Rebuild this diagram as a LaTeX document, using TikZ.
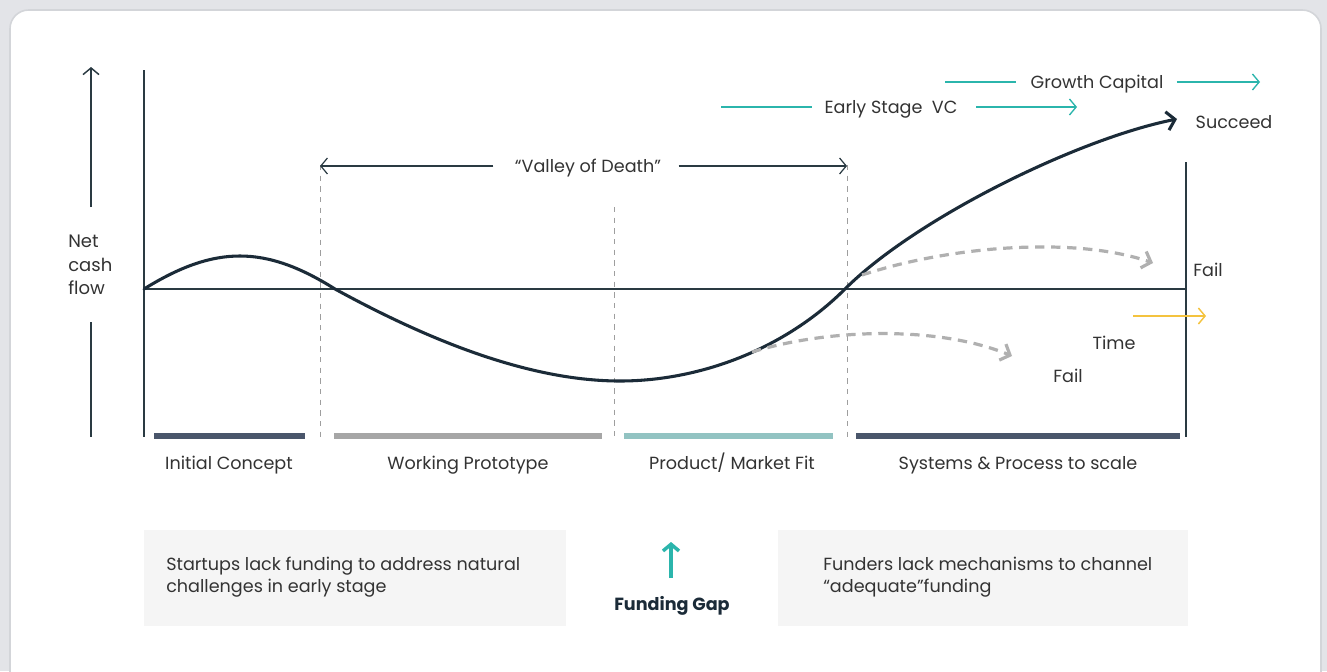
\documentclass[tikz,border=0pt]{standalone}
\usepackage{fontspec}
\setmainfont{Poppins}
\usetikzlibrary{arrows.meta}
\definecolor{pagegrey}{HTML}{E3E4E8}
\definecolor{cardedge}{HTML}{D3D5D9}
\definecolor{ink}{HTML}{1B2B38}
\definecolor{axisc}{HTML}{2A3A42}
\definecolor{txt}{HTML}{333333}
\definecolor{teal}{HTML}{2BB5AC}
\definecolor{gold}{HTML}{F4C33F}
\definecolor{dashgrey}{HTML}{B0B0B0}
\definecolor{slate}{HTML}{4A566B}
\definecolor{midgrey}{HTML}{A6A6A6}
\definecolor{paleteal}{HTML}{92C3C2}
\definecolor{boxfill}{HTML}{F5F5F5}
\begin{document}
\begin{tikzpicture}[x=0.75pt,y=-0.75pt,
  lbl/.style={font=\fontsize{13.2}{15}\selectfont, text=txt, inner sep=0pt,
     text height=9.4pt, text depth=2.6pt, yshift=-1.5pt},
  axisline/.style={draw=axisc, line width=1.1pt},
  tealarrow/.style={draw=teal, line width=1pt, -{Straight Barb[length=5pt,width=12pt]}},
  tealline/.style={draw=teal, line width=1pt},
  guide/.style={draw=dashgrey!90!black, line width=0.7pt, dash pattern=on 4pt off 4pt},
  failpath/.style={draw=dashgrey, line width=2.4pt, dash pattern=on 7pt off 5pt,
     -{Straight Barb[length=6pt,width=13pt,line width=2.4pt]}},
  stagebar/.style={line width=4.5pt},
  infobox/.style={fill=boxfill, minimum height=72pt, inner sep=0pt},
  boxtext/.style={font=\fontsize{13.2}{16.5}\selectfont, text=txt, align=left, inner sep=0pt}]
\useasboundingbox (0,0) rectangle (1327,671);
\clip (0,0) rectangle (1327,671);
% page and card
\fill[pagegrey] (0,0) rectangle (1327,671);
\draw[cardedge, fill=white, line width=1.2pt, rounded corners=14pt] (10,10) rectangle (1321,720);

% key points
\coordinate (o) at (144,289);
\coordinate (ytop) at (144,70);
\coordinate (ybot) at (144,437);
\coordinate (xend) at (1186,289);
\coordinate (rtop) at (1186,162);
\coordinate (rbot) at (1186,437);

% axes
\draw[axisline] (ytop) -- (ybot);
\draw[axisline] (o) -- (xend);
\draw[axisline] (rtop) -- (rbot);

% y-axis label with arrow
\coordinate (yarrowlo) at (91,207);
\coordinate (yarrowhi) at (91,67);
\coordinate (ylinehi) at (91,322);
\coordinate (ylinelo) at (91,437);
\draw[axisline, -{Straight Barb[length=5pt,width=12pt]}] (yarrowlo) -- (yarrowhi);
\draw[axisline] (ylinehi) -- (ylinelo);
\node[inner sep=0pt, text=txt, anchor=west, align=left, font=\fontsize{13.5}{17.8}\selectfont] (ylabel) at (68,265) {Net\\cash\\flow};

% stage separators
\coordinate (s1top) at (320,165);  \coordinate (s1bot) at (320,437);
\coordinate (s2top) at (614,207);  \coordinate (s2bot) at (614,437);
\coordinate (s3top) at (847,165);  \coordinate (s3bot) at (847,437);
\draw[guide] (s1top) -- (s1bot);
\draw[guide] (s2top) -- (s2bot);
\draw[guide] (s3top) -- (s3bot);

% valley of death span
\node[lbl] (valley) at (588,166) {“Valley of Death”};
\coordinate (vl) at (320,166);
\coordinate (vr) at (847,166);
\draw[axisline, line width=0.9pt, -{Straight Barb[length=5pt,width=12pt]}] ([xshift=-16pt,yshift=1.5pt]valley.west) -- (vl);
\draw[axisline, line width=0.9pt, -{Straight Barb[length=5pt,width=12pt]}] ([xshift=13pt,yshift=1.5pt]valley.east) -- (vr);

% funding rounds
\node[lbl] (esvc) at (891,107) {Early Stage\ \ VC};
\coordinate (esl) at (721,107);
\coordinate (esr) at (1077,107);
\draw[tealline] (esl) -- ([xshift=-9pt,yshift=1.5pt]esvc.west);
\draw[tealarrow] ([xshift=14pt,yshift=1.5pt]esvc.east) -- (esr);

\node[lbl] (growth) at (1097,82) {Growth Capital};
\coordinate (gl) at (945,82);
\coordinate (gr) at (1260,82);
\draw[tealline] (gl) -- ([xshift=-11pt,yshift=1.5pt]growth.west);
\draw[tealarrow] ([xshift=10pt,yshift=1.5pt]growth.east) -- (gr);

% cash flow curve
\coordinate (c1) at (335,289);
\coordinate (c2) at (620,381);
\coordinate (c3) at (845,289);
\coordinate (succ) at (1177,119);
\draw[ink, line width=2.3pt, line cap=round, -{Straight Barb[length=6pt,width=14pt,line width=2.3pt]}]
  (o) .. controls (215,245) and (265,245) .. (c1)
      .. controls (430,341) and (530,381) .. (c2)
      .. controls (700,381) and (785,349) .. (c3)
      .. controls (915,219) and (1077,139) .. (succ);

% failure branches
\coordinate (f1s) at (862,275);
\coordinate (f1e) at (1153,263);
\coordinate (f2s) at (752,352);
\coordinate (f2e) at (1012,356);
\draw[failpath] (f1s) .. controls (950,246) and (1075,236) .. (f1e);
\draw[failpath] (f2s) .. controls (830,328) and (940,326) .. (f2e);

% time marker
\coordinate (tl) at (1133,316);
\coordinate (tr) at (1206,316);
\draw[draw=gold, line width=1.1pt, -{Straight Barb[length=5pt,width=12pt]}] (tl) -- (tr);

% outcome labels
\node[lbl] (succeed) at (1234,122) {Succeed};
\node[lbl] (fail1) at (1208,270) {Fail};
\node[lbl] (time) at (1114,343) {Time};
\node[lbl] (fail2) at (1068,376) {Fail};

% stage bars
\coordinate (b1a) at (154,436); \coordinate (b1b) at (305,436);
\coordinate (b2a) at (334,436); \coordinate (b2b) at (602,436);
\coordinate (b3a) at (624,436); \coordinate (b3b) at (833,436);
\coordinate (b4a) at (856,436); \coordinate (b4b) at (1180,436);
\draw[stagebar, slate] (b1a) -- (b1b);
\draw[stagebar, midgrey] (b2a) -- (b2b);
\draw[stagebar, paleteal] (b3a) -- (b3b);
\draw[stagebar, slate] (b4a) -- (b4b);

% stage names
\node[lbl] (st1) at (229,463) {Initial Concept};
\node[lbl] (st2) at (468,463) {Working Prototype};
\node[lbl] (st3) at (732,463) {Product/ Market Fit};
\node[lbl] (st4) at (1018,463) {Systems \& Process to scale};

% bottom info boxes
\node[infobox, anchor=north west, minimum width=316pt] (boxl) at (144,530) {};
\node[infobox, anchor=north west, minimum width=307pt] (boxr) at (778,530) {};
\node[boxtext, anchor=west] (boxltext) at (166,577) {Startups lack funding to address natural\\challenges in early stage};
\node[boxtext, anchor=west] (boxrtext) at (823,577) {Funders lack mechanisms to channel\\“adequate”funding};

% funding gap
\coordinate (gapbot) at (671,578);
\coordinate (gaptop) at (671,542);
\draw[draw=teal, line width=2.6pt, -{Straight Barb[length=5pt,width=12pt,line width=2.6pt]}] (gapbot) -- (gaptop);
\node[lbl, font=\fontsize{13.2}{15}\selectfont\bfseries, text=ink] (gap) at (672,604) {Funding Gap};
\end{tikzpicture}
\end{document}
